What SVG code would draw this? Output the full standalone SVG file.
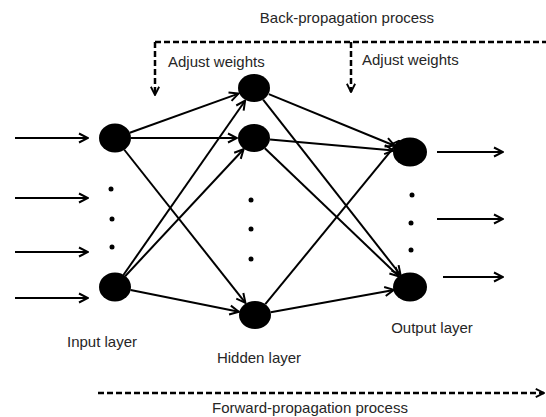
<svg xmlns="http://www.w3.org/2000/svg" width="546" height="417" viewBox="0 0 546 417">
<style>
.node{fill:#000}
.dot{fill:#000}
.edge{stroke:#000;stroke-width:2;fill:none;marker-end:url(#arr)}
.dash{stroke:#000;stroke-width:2.5;fill:none;stroke-dasharray:6 3}
.lbl{font-family:"Liberation Sans",Arial,sans-serif;font-size:15px;fill:#262626}
</style>
<defs>
<marker id="arr" viewBox="0 0 12 12" refX="11" refY="6" markerWidth="12" markerHeight="12" markerUnits="userSpaceOnUse" orient="auto">
<path d="M2,1.5 L11,6 L2,10.5" fill="none" stroke="#000" stroke-width="2"/>
</marker>
<marker id="arrd" viewBox="0 0 12 12" refX="11" refY="6" markerWidth="11" markerHeight="11" markerUnits="userSpaceOnUse" orient="auto">
<path d="M2,1.5 L11,6 L2,10.5" fill="none" stroke="#000" stroke-width="2"/>
</marker>
</defs>
<rect width="546" height="417" fill="#fff"/>
<g id="connectors">
<line class="edge" x1="15" y1="138" x2="88" y2="138"/>
<line class="edge" x1="15" y1="198" x2="88" y2="198"/>
<line class="edge" x1="15" y1="252" x2="88" y2="252"/>
<line class="edge" x1="15" y1="298" x2="88" y2="298"/>
<line class="edge" x1="129.8" y1="132.7" x2="238.5" y2="93.6"/>
<line class="edge" x1="131" y1="138" x2="237" y2="138"/>
<line class="edge" x1="124.1" y1="149.5" x2="245.4" y2="302.8"/>
<line class="edge" x1="123.4" y1="275" x2="245.1" y2="100.7"/>
<line class="edge" x1="125.1" y1="276.2" x2="243.6" y2="149.2"/>
<line class="edge" x1="130.6" y1="290.1" x2="238.8" y2="311.8"/>
<line class="edge" x1="268.8" y1="94.1" x2="394.6" y2="145.7"/>
<line class="edge" x1="263.1" y1="99.6" x2="400.6" y2="275"/>
<line class="edge" x1="270" y1="139.4" x2="393.5" y2="150.5"/>
<line class="edge" x1="264.8" y1="148.3" x2="399" y2="276.5"/>
<line class="edge" x1="265.3" y1="304.2" x2="399.3" y2="140.7"/>
<line class="edge" x1="270.7" y1="312.2" x2="393.8" y2="289.9"/>
<line class="edge" x1="437" y1="152" x2="503" y2="152"/>
<line class="edge" x1="437" y1="219" x2="503" y2="219"/>
<line class="edge" x1="443" y1="277" x2="503" y2="277"/>
<path class="dash" d="M155,42 H546"/>
<path class="dash" d="M155,42 V95" marker-end="url(#arrd)"/>
<path class="dash" d="M351,42 V92" marker-end="url(#arrd)"/>
<line class="dash" x1="98" y1="393" x2="544" y2="393" marker-end="url(#arrd)"/>
</g>
<g id="input1"><ellipse class="node" cx="115" cy="138" rx="16" ry="14.5"/></g>
<g id="input2"><ellipse class="node" cx="115" cy="287" rx="16" ry="14.5"/></g>
<g id="input-dots"><circle class="dot" cx="111" cy="189" r="2.5"/><circle class="dot" cx="112" cy="219" r="2.5"/><circle class="dot" cx="112" cy="247" r="2.5"/></g>
<g id="hidden1"><ellipse class="node" cx="254" cy="88" rx="16" ry="14"/></g>
<g id="hidden2"><ellipse class="node" cx="254" cy="138" rx="16" ry="14"/></g>
<g id="hidden3"><ellipse class="node" cx="255" cy="315" rx="16" ry="14"/></g>
<g id="hidden-dots"><circle class="dot" cx="251" cy="200" r="2.5"/><circle class="dot" cx="251" cy="229" r="2.5"/><circle class="dot" cx="251" cy="259" r="2.5"/></g>
<g id="output1"><ellipse class="node" cx="410" cy="152" rx="17" ry="14.5"/></g>
<g id="output2"><ellipse class="node" cx="410" cy="287" rx="17" ry="14.5"/></g>
<g id="output-dots"><circle class="dot" cx="412" cy="195" r="2.5"/><circle class="dot" cx="411" cy="223" r="2.5"/><circle class="dot" cx="411" cy="250" r="2.5"/></g>
<g id="labels">
<text class="lbl" x="347" y="23" text-anchor="middle">Back-propagation process</text>
<text class="lbl" x="168" y="67">Adjust weights</text>
<text class="lbl" x="362" y="65">Adjust weights</text>
<text class="lbl" x="102" y="347" text-anchor="middle">Input layer</text>
<text class="lbl" x="259" y="363" text-anchor="middle">Hidden layer</text>
<text class="lbl" x="432" y="333" text-anchor="middle">Output layer</text>
<text class="lbl" x="310" y="413" text-anchor="middle">Forward-propagation process</text>
</g>
</svg>
